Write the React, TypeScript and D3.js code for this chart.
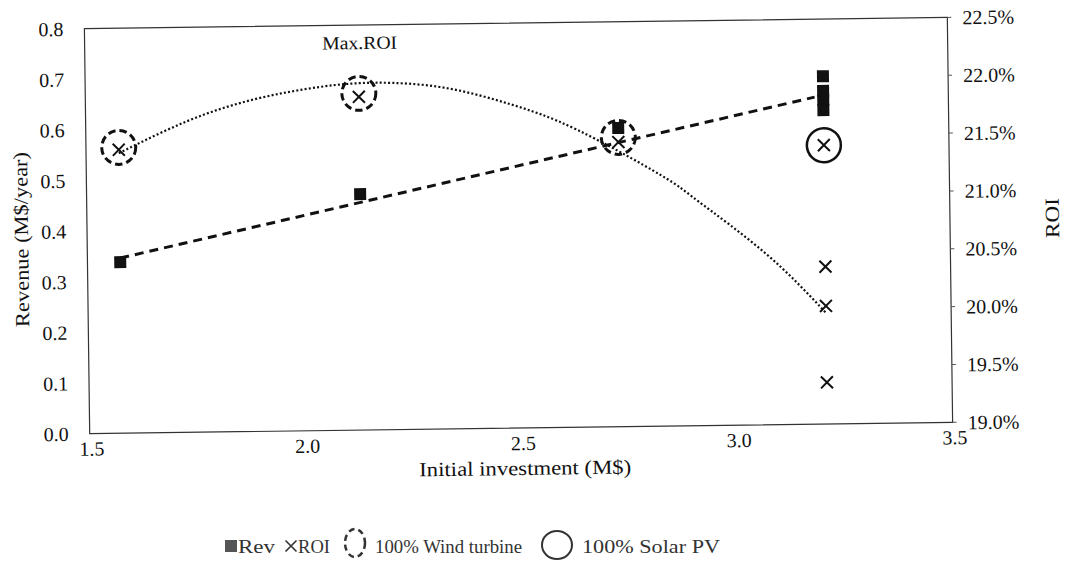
import React from 'react';
import * as d3 from 'd3';

// axis ticks
const investTicks = [1.5, 2.0, 2.5, 3.0, 3.5];
const revTicks = [0, 0.1, 0.2, 0.3, 0.4, 0.5, 0.6, 0.7, 0.8];
const roiTicks = [19.0, 19.5, 20.0, 20.5, 21.0, 21.5, 22.0, 22.5];

// revenue points (M$/year)
const revInvest = [1.576, 2.134, 2.734, 3.21, 3.21, 3.21, 3.21];
const revValues = [0.338, 0.466, 0.59, 0.687, 0.658, 0.64, 0.62];

// ROI points (%)
const roiInvest = [1.576, 2.134, 2.734, 3.21, 3.21, 3.21, 3.21];
const roiValues = [21.45, 21.88, 21.46, 21.41, 20.36, 20.02, 19.36];

// trend lines
const revTrendInvest = [1.576, 3.19];
const revTrendValues = [0.346, 0.646];
const roiTrendInvest = [1.576, 1.736, 1.891, 2.044, 2.176, 2.331, 2.484, 2.639, 2.831, 2.917, 3.072, 3.21];
const roiTrendValues = [21.42, 21.69, 21.87, 21.97, 22.0, 21.95, 21.8, 21.57, 21.17, 20.94, 20.48, 19.96];

// highlighted configurations
const windInvest = [1.576, 2.134, 2.734];
const windRoi = [21.47, 21.91, 21.5];
const solarInvest = [3.21];
const solarRoi = [21.41];

const left = 87;
const right = 950;
const top = 23;
const bottom = 428;
const font = '"Liberation Serif", "Times New Roman", serif';

function Label({ x, y, text, size = 20, anchor = 'middle', rotate = 0, length, fill = '#111' }: any) {
  return (
    <text
      transform={`translate(${x},${y}) rotate(${rotate})`}
      textAnchor={anchor}
      dominantBaseline="central"
      fontSize={size}
      fontFamily={font}
      fill={fill}
      textLength={length}
      lengthAdjust={length ? 'spacingAndGlyphs' : undefined}
    >
      {text}
    </text>
  );
}

export default function App() {
  const x = d3.scaleLinear().domain([1.5, 3.5]).range([left, right]);
  const yRev = d3.scaleLinear().domain([0, 0.8]).range([bottom, top]);
  const yRoi = d3.scaleLinear().domain([19, 22.5]).range([bottom, top]);

  const revTrend = d3
    .line<number>()
    .x((d) => x(d))
    .y((d, i) => yRev(revTrendValues[i]))(revTrendInvest);

  const roiTrend = d3
    .line<number>()
    .x((d) => x(d))
    .y((d, i) => yRoi(roiTrendValues[i]))
    .curve(d3.curveNatural)(roiTrendInvest);

  const cross = (cx: number, cy: number, h: number) =>
    `M${cx - h},${cy - h}L${cx + h},${cy + h}M${cx - h},${cy + h}L${cx + h},${cy - h}`;

  return (
    <svg
      width={1067}
      height={572}
      style={{ position: 'absolute', left: 0, top: 0, background: '#fff' }}
    >
      <g transform="rotate(-0.75 520 225)">
        <rect
          x={left}
          y={top}
          width={right - left}
          height={bottom - top}
          fill="none"
          stroke="#333"
          strokeWidth={1.2}
        />
        {roiTicks.map((t) => (
          <line key={t} x1={right} x2={right + 4} y1={yRoi(t)} y2={yRoi(t)} stroke="#555" />
        ))}

        {revTicks.map((t) => (
          <Label key={t} x={66} y={yRev(t)} text={t.toFixed(1)} anchor="end" />
        ))}
        {roiTicks.map((t) => (
          <Label key={t} x={965} y={yRoi(t)} text={t.toFixed(1) + '%'} anchor="start" />
        ))}
        {investTicks.map((t) => (
          <Label key={t} x={x(t) + 2} y={443} text={t.toFixed(1)} />
        ))}

        <Label x={522} y={468} text="Initial investment (M$)" size={20} length={212} />
        <Label x={21} y={233} text="Revenue (M$/year)" size={20} rotate={-90} length={175} />
        <Label x={1052} y={225} text="ROI" size={20} rotate={-90} length={40} />
        <Label x={362} y={41} text="Max.ROI" size={18.5} length={75} />

        <path d={revTrend || ''} fill="none" stroke="#111" strokeWidth={3} strokeDasharray="9 6" />
        <path d={roiTrend || ''} fill="none" stroke="#111" strokeWidth={2.2} strokeDasharray="2 2.2" />

        {revInvest.map((d, i) => (
          <rect key={i} x={x(d) - 6} y={yRev(revValues[i]) - 6} width={12} height={12} fill="#111" />
        ))}
        {roiInvest.map((d, i) => (
          <path key={i} d={cross(x(d), yRoi(roiValues[i]), 6)} stroke="#111" strokeWidth={2} fill="none" />
        ))}

        {windInvest.map((d, i) => (
          <circle
            key={i}
            cx={x(d)}
            cy={yRoi(windRoi[i])}
            r={17}
            fill="none"
            stroke="#111"
            strokeWidth={3}
            strokeDasharray="7.5 4"
          />
        ))}
        {solarInvest.map((d, i) => (
          <circle key={i} cx={x(d)} cy={yRoi(solarRoi[i])} r={17} fill="none" stroke="#111" strokeWidth={2.5} />
        ))}
      </g>

      <g>
        <rect x={225} y={540} width={12} height={12} fill="#555" />
        <Label x={238} y={546} text="Rev" size={19} anchor="start" length={37} fill="#333" />
        <path d={cross(291, 546, 5.5)} stroke="#333" strokeWidth={1.6} fill="none" />
        <Label x={298} y={546} text="ROI" size={19} anchor="start" length={32} fill="#333" />
        <ellipse cx={355} cy={543} rx={10} ry={14} fill="none" stroke="#333" strokeWidth={2.5} strokeDasharray="6 4" />
        <Label x={375} y={546} text="100% Wind turbine" size={19} anchor="start" length={147} fill="#333" />
        <ellipse cx={557} cy={545} rx={15} ry={14} fill="none" stroke="#333" strokeWidth={2} />
        <Label x={582} y={546} text="100% Solar PV" size={19} anchor="start" length={138} fill="#333" />
      </g>
    </svg>
  );
}
